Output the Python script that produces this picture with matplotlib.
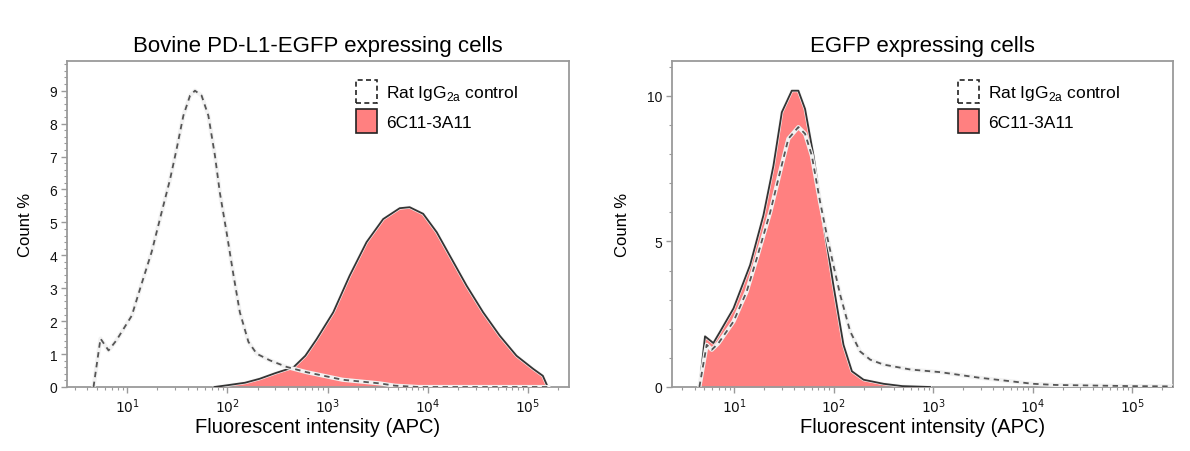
import matplotlib
matplotlib.use("Agg")
import matplotlib.pyplot as plt
import matplotlib.patheffects as pe
from matplotlib.ticker import LogLocator, MultipleLocator, FixedLocator, FixedFormatter
from matplotlib.patches import Patch

plt.rcParams['font.family'] = ['Liberation Sans', 'DejaVu Sans']

# ---- left panel: Bovine PD-L1-EGFP expressing cells ----
left_ctrl_x = [4.6, 5.4, 6.5, 7.8, 11.1, 13.4, 17.5, 22, 26.7, 31.1, 36.3, 42.3, 47.4,
               55.2, 64.5, 75, 84, 98, 115, 133, 162, 196, 265, 390, 617, 1410, 3310,
               4700, 8000, 160000]
left_ctrl_y = [0.0, 1.47, 1.11, 1.42, 2.17, 2.98, 4.1, 5.3, 6.3, 7.23, 8.24, 8.85, 9.0,
               8.85, 8.24, 7.03, 5.9, 4.7, 3.39, 2.27, 1.37, 1.01, 0.81, 0.61, 0.45, 0.22,
               0.11, 0.04, 0.0, 0.0]

left_ab_x = [74, 98, 150, 210, 300, 457, 600, 776, 1140, 1660, 2450, 3590, 5250, 6600,
             9000, 12300, 16600, 24400, 35700, 52300, 76900, 113000, 141000, 158000]
left_ab_y = [0.0, 0.05, 0.13, 0.25, 0.42, 0.6, 0.95, 1.45, 2.27, 3.38, 4.4, 5.1, 5.43,
             5.46, 5.26, 4.7, 3.99, 3.08, 2.27, 1.56, 0.95, 0.55, 0.34, 0.0]

# ---- right panel: EGFP expressing cells ----
right_ctrl_x = [4.45, 5.27, 5.93, 6.9, 9.8, 13.3, 16.8, 22.9, 28.8, 34.9, 44, 51.4, 60,
                72.8, 85, 99, 116, 146, 184, 232, 316, 590, 1175, 2880, 5900, 10000,
                17000, 41700, 100000, 263000]
right_ctrl_y = [0.0, 1.45, 1.28, 1.5, 2.25, 3.28, 4.42, 6.0, 7.39, 8.53, 8.93, 8.7, 7.96,
                6.36, 5.22, 4.19, 3.16, 1.91, 1.22, 0.94, 0.77, 0.6, 0.51, 0.32, 0.2, 0.11,
                0.07, 0.05, 0.03, 0.02]

right_ab_x = [4.45, 5.07, 6.15, 7.18, 9.8, 14.4, 19.6, 24.7, 30, 37.8, 44, 51.4, 62.4,
              78.5, 99, 125, 152, 199, 316, 490, 930]
right_ab_y = [0.0, 1.74, 1.51, 1.9, 2.7, 4.19, 5.9, 7.6, 9.44, 10.18, 10.18, 9.55, 7.96,
              5.67, 3.5, 1.45, 0.54, 0.25, 0.11, 0.03, 0.0]

titles = ["Bovine PD-L1-EGFP expressing cells", "EGFP expressing cells"]
legend_labels = ["Rat IgG$_{\\mathregular{2a}}$ control", "6C11-3A11"]
x_major = [10, 100, 1000, 10000, 100000]
x_major_labels = ["$10^{1}$", "$10^{2}$", "$10^{3}$", "$10^{4}$", "$10^{5}$"]

FILL_COLOR = '#ff8080'
EDGE_COLOR = '#333333'
DASH_COLOR = '#555555'
SPINE_COLOR = '#9a9a9a'

fig = plt.figure(figsize=(11.9, 4.52), dpi=100)
ax_l = fig.add_axes([0.0563, 0.1416, 0.4218, 0.7212])
ax_r = fig.add_axes([0.5647, 0.1416, 0.4210, 0.7212])

panels = [
    (ax_l, left_ctrl_x, left_ctrl_y, left_ab_x, left_ab_y, (2.5, 2.57e5), (0, 9.9),
     list(range(10)), 0.2, 0.545),
    (ax_r, right_ctrl_x, right_ctrl_y, right_ab_x, right_ab_y, (2.36, 2.57e5), (0, 11.2),
     [0, 5, 10], 1, 0.54),
]

for i, (ax, cx, cy, ax_x, ax_y, xlim, ylim, yticks, yminor, leg_x) in enumerate(panels):
    ax.set_xscale('log')
    ax.fill_between(ax_x, ax_y, 0, color=FILL_COLOR, linewidth=0, zorder=2)
    ax.plot(ax_x, ax_y, color=EDGE_COLOR, linewidth=1.3, zorder=3,
            path_effects=[pe.Stroke(linewidth=2.2, foreground='#f4f4f4'), pe.Normal()])
    # white halo under dashes, visible only where the control crosses the fill
    ax.plot(cx, cy, color='#f2f2f2', linewidth=3.0, zorder=4)
    ax.plot(cx, cy, color=DASH_COLOR, linewidth=1.3, linestyle=(0, (3, 2.5)), zorder=5)

    ax.set_xlim(*xlim)
    ax.set_ylim(*ylim)
    ax.xaxis.set_major_locator(FixedLocator(x_major))
    ax.xaxis.set_major_formatter(FixedFormatter(x_major_labels))
    ax.xaxis.set_minor_locator(LogLocator(base=10, subs=range(2, 10), numticks=20))
    ax.xaxis.set_minor_formatter(FixedFormatter([]))
    ax.set_yticks(yticks)
    ax.yaxis.set_minor_locator(MultipleLocator(yminor))

    ax.tick_params(axis='both', which='major', direction='out', length=4, width=1,
                   color=SPINE_COLOR, labelsize=10, labelcolor='#111111', pad=3)
    ax.tick_params(axis='both', which='minor', direction='out', length=2.5, width=0.8,
                   color=SPINE_COLOR)
    for spine in ax.spines.values():
        spine.set_color(SPINE_COLOR)
        spine.set_linewidth(1.3)

    ax.set_xlabel("Fluorescent intensity (APC)", fontsize=14.5, labelpad=1)
    ax.set_ylabel("Count %", fontsize=12, labelpad=12)
    ax.set_title(titles[i], fontsize=16, pad=7)

    handles = [
        Patch(facecolor='white', edgecolor='#222222', linestyle=(0, (3, 2)), linewidth=1.2),
        Patch(facecolor=FILL_COLOR, edgecolor='#222222', linewidth=1.2),
    ]
    ax.legend(handles, legend_labels, loc='upper left', bbox_to_anchor=(leg_x, 0.99),
              frameon=False, fontsize=12.5, handlelength=1.2, handleheight=1.7,
              handletextpad=0.5, labelspacing=0.35)

fig.savefig("out.png", dpi=100)
